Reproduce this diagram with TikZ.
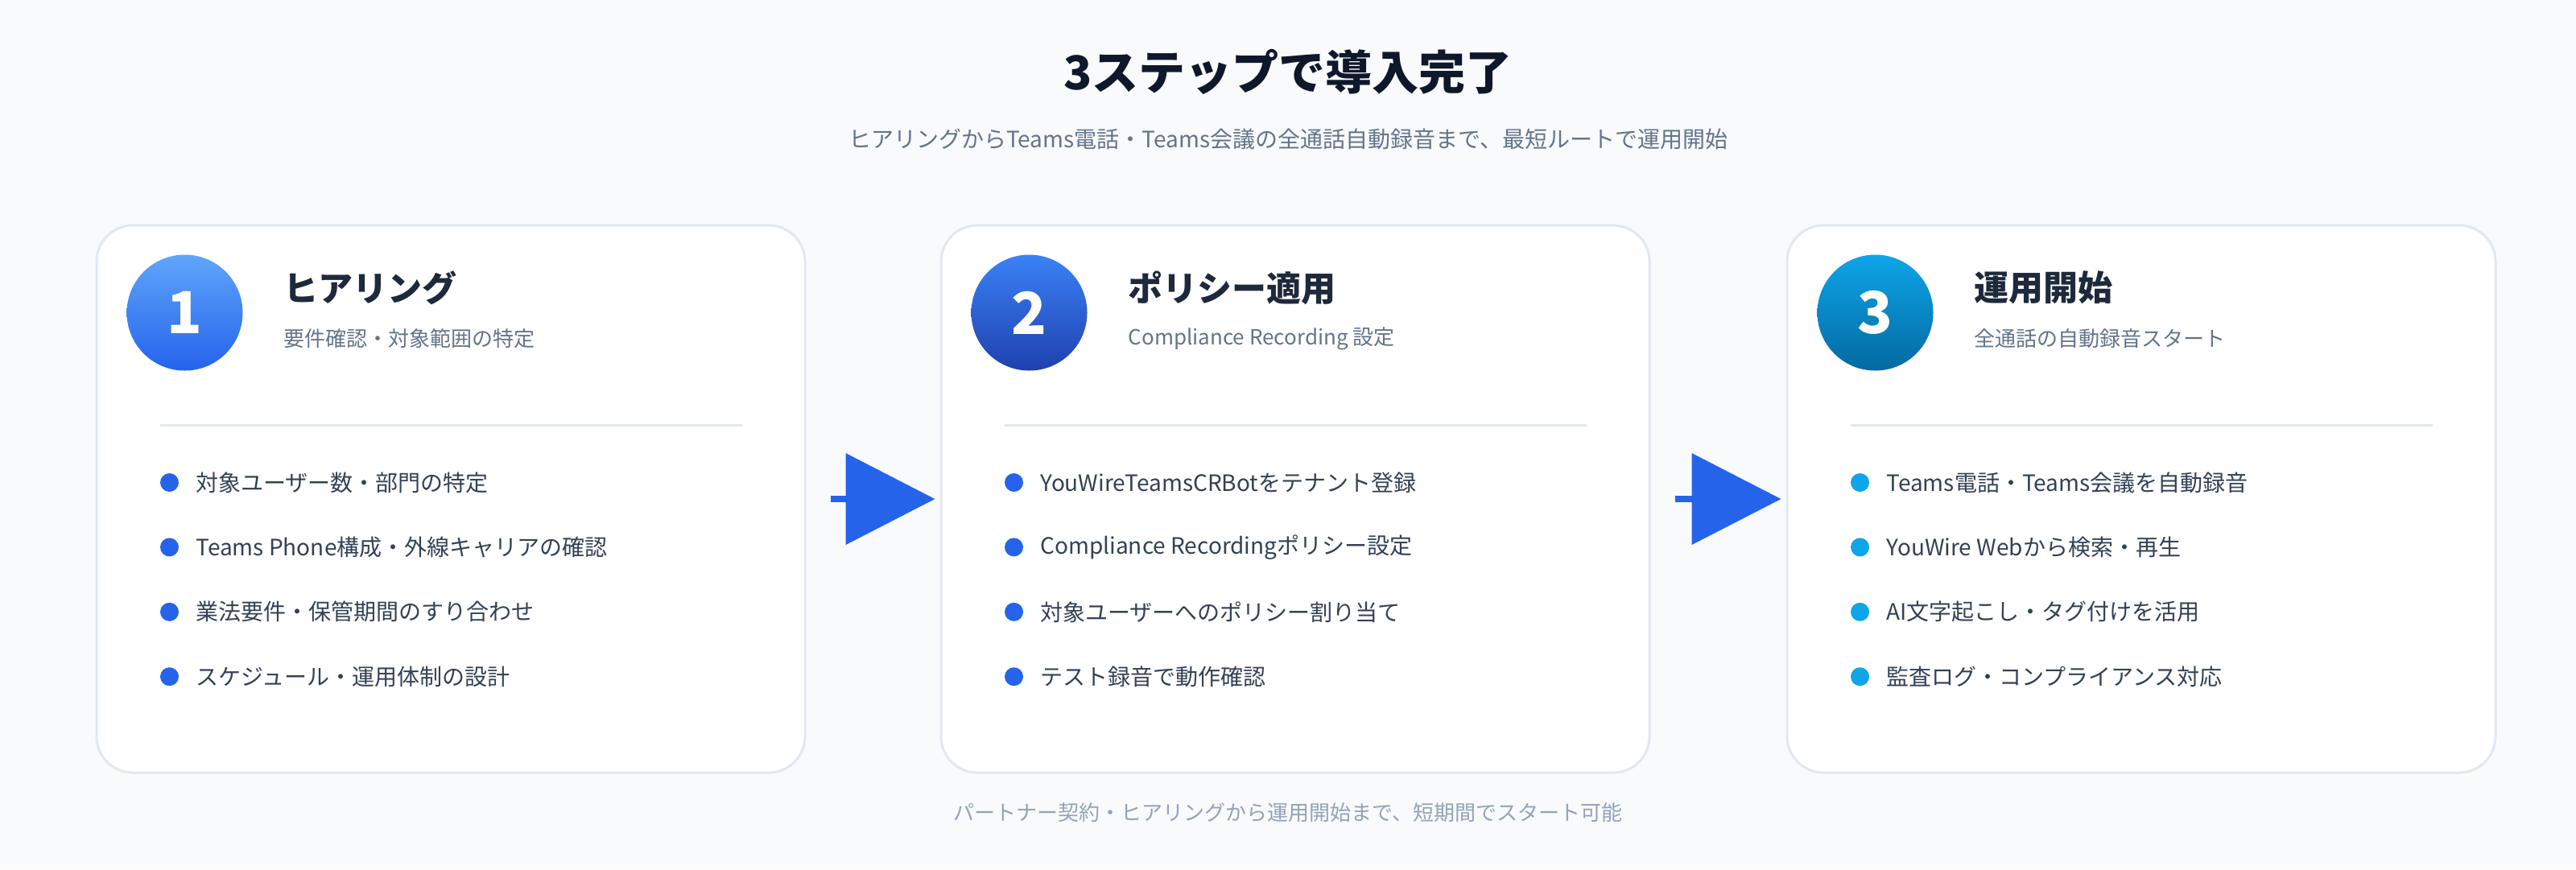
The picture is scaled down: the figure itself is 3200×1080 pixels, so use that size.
\documentclass[tikz,border=0pt]{standalone}
\usepackage{fontspec}
\setmainfont{Noto Sans CJK JP}
\usetikzlibrary{positioning,arrows.meta}
\definecolor{pagebg}{HTML}{F8FAFC}
\definecolor{cardline}{HTML}{E2E8F0}
\definecolor{ink}{HTML}{0F172A}
\definecolor{inksoft}{HTML}{1E293B}
\definecolor{itemink}{HTML}{334155}
\definecolor{slate}{HTML}{64748B}
\definecolor{mist}{HTML}{94A3B8}
\definecolor{blueA}{HTML}{60A5FA}
\definecolor{blueB}{HTML}{2563EB}
\definecolor{blueC}{HTML}{3B82F6}
\definecolor{blueD}{HTML}{1E40AF}
\definecolor{cyanA}{HTML}{0EA5E9}
\definecolor{cyanB}{HTML}{0369A1}
\tikzset{
  card/.style={draw=cardline, line width=3pt, fill=white, rounded corners=45pt,
               minimum width=880pt, minimum height=680pt},
  stepnum/.style={circle, minimum size=144pt, inner sep=0pt, text=white,
                  font=\fontsize{72}{72}\selectfont\bfseries},
  steptitle/.style={anchor=west, inner sep=0pt, text=inksoft, font=\fontsize{43}{43}\selectfont\bfseries},
  stepsub/.style={anchor=west, inner sep=0pt, text=slate, font=\fontsize{26}{26}\selectfont},
  divider/.style={draw=cardline, line width=3pt},
  bulletdot/.style={circle, inner sep=0pt, minimum size=23pt, fill=#1},
  bulletdot/.default=blueB,
  itemtext/.style={inner sep=0pt, text=itemink, font=\fontsize{28}{28}\selectfont},
  headline/.style={text=ink, font=\fontsize{58}{58}\selectfont\bfseries},
  lead/.style={text=slate, font=\fontsize{28}{28}\selectfont},
  footnote/.style={text=mist, font=\fontsize{26}{26}\selectfont},
  flow/.style={draw=blueB, line width=8pt, -{Triangle[length=111pt, width=112pt]}},
}
\begin{document}
\begin{tikzpicture}[x=1pt, y=-1pt]
  \fill[pagebg] (0,0) rectangle (3200,1080);
  \useasboundingbox (0,0) rectangle (3200,1080);

  \node[headline] (head) at (1600,89) {3ステップで導入完了};
  \node[lead] (lead) at (1600,173) {ヒアリングからTeams電話・Teams会議の全通話自動録音まで、最短ルートで運用開始};

  % step 1
  \node[card] (card1) at (560,620) {};
  \node[stepnum, top color=blueA, bottom color=blueB] (num1) at ([shift={(111,110)}]card1.north west) {1};
  \node[steptitle] (title1) at ([shift={(234,79)}]card1.north west) {ヒアリング};
  \node[stepsub] (sub1) at ([shift={(234,142)}]card1.north west) {要件確認・対象範囲の特定};
  \draw[divider] ([shift={(80,250)}]card1.north west) -- ([shift={(-80,250)}]card1.north east);
  \node[bulletdot] (b11) at ([shift={(92,321)}]card1.north west) {};
  \node[bulletdot] (b12) [below=57pt of b11] {};
  \node[bulletdot] (b13) [below=57pt of b12] {};
  \node[bulletdot] (b14) [below=57pt of b13] {};
  \node[itemtext] (i11) [right=21pt of b11] {対象ユーザー数・部門の特定};
  \node[itemtext] (i12) [right=21pt of b12] {Teams Phone構成・外線キャリアの確認};
  \node[itemtext] (i13) [right=21pt of b13] {業法要件・保管期間のすり合わせ};
  \node[itemtext] (i14) [right=21pt of b14] {スケジュール・運用体制の設計};

  % step 2
  \node[card] (card2) at (1609,620) {};
  \node[stepnum, top color=blueC, bottom color=blueD] (num2) at ([shift={(111,110)}]card2.north west) {2};
  \node[steptitle] (title2) at ([shift={(234,79)}]card2.north west) {ポリシー適用};
  \node[stepsub] (sub2) at ([shift={(234,142)}]card2.north west) {Compliance Recording 設定};
  \draw[divider] ([shift={(80,250)}]card2.north west) -- ([shift={(-80,250)}]card2.north east);
  \node[bulletdot] (b21) at ([shift={(92,321)}]card2.north west) {};
  \node[bulletdot] (b22) [below=57pt of b21] {};
  \node[bulletdot] (b23) [below=57pt of b22] {};
  \node[bulletdot] (b24) [below=57pt of b23] {};
  \node[itemtext] (i21) [right=21pt of b21] {YouWireTeamsCRBotをテナント登録};
  \node[itemtext] (i22) [right=21pt of b22] {Compliance Recordingポリシー設定};
  \node[itemtext] (i23) [right=21pt of b23] {対象ユーザーへのポリシー割り当て};
  \node[itemtext] (i24) [right=21pt of b24] {テスト録音で動作確認};

  % step 3
  \node[card] (card3) at (2660,620) {};
  \node[stepnum, top color=cyanA, bottom color=cyanB] (num3) at ([shift={(111,110)}]card3.north west) {3};
  \node[steptitle] (title3) at ([shift={(234,79)}]card3.north west) {運用開始};
  \node[stepsub] (sub3) at ([shift={(234,142)}]card3.north west) {全通話の自動録音スタート};
  \draw[divider] ([shift={(80,250)}]card3.north west) -- ([shift={(-80,250)}]card3.north east);
  \node[bulletdot=cyanA] (b31) at ([shift={(92,321)}]card3.north west) {};
  \node[bulletdot=cyanA] (b32) [below=57pt of b31] {};
  \node[bulletdot=cyanA] (b33) [below=57pt of b32] {};
  \node[bulletdot=cyanA] (b34) [below=57pt of b33] {};
  \node[itemtext] (i31) [right=21pt of b31] {Teams電話・Teams会議を自動録音};
  \node[itemtext] (i32) [right=21pt of b32] {YouWire Webから検索・再生};
  \node[itemtext] (i33) [right=21pt of b33] {AI文字起こし・タグ付けを活用};
  \node[itemtext] (i34) [right=21pt of b34] {監査ログ・コンプライアンス対応};

  % arrows between the steps
  \draw[flow] ([xshift=30pt]card1.east) -- ([xshift=-6pt]card2.west);
  \draw[flow] ([xshift=30pt]card2.east) -- ([xshift=-6pt]card3.west);

  \node[footnote] (foot) at (1600,1010) {パートナー契約・ヒアリングから運用開始まで、短期間でスタート可能};
\end{tikzpicture}
\end{document}
